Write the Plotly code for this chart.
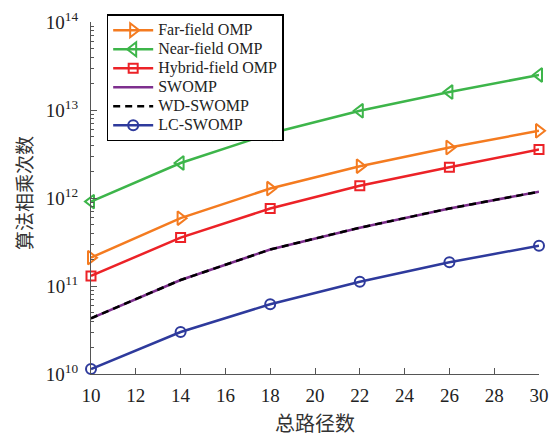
import plotly.graph_objects as go

# Total number of paths
paths = [10, 14, 18, 22, 26, 30]

# Number of complex multiplications per algorithm
far_field_omp = [2.1e11, 5.9e11, 1.28e12, 2.3e12, 3.75e12, 5.8e12]
near_field_omp = [9.1e11, 2.5e12, 5.4e12, 9.8e12, 1.6e13, 2.5e13]
hybrid_field_omp = [1.3e11, 3.55e11, 7.6e11, 1.38e12, 2.24e12, 3.55e12]
swomp = [4.3e10, 1.17e11, 2.6e11, 4.6e11, 7.6e11, 1.18e12]
wd_swomp = [4.3e10, 1.17e11, 2.6e11, 4.6e11, 7.6e11, 1.18e12]
lc_swomp = [1.14e10, 3.0e10, 6.2e10, 1.12e11, 1.86e11, 2.87e11]

series = [
    ("Far-field OMP", far_field_omp, "#F47B20", "triangle-right-open", 12, "solid"),
    ("Near-field OMP", near_field_omp, "#3DB54A", "triangle-left-open", 12, "solid"),
    ("Hybrid-field OMP", hybrid_field_omp, "#EC2227", "square-open", 9, "solid"),
    ("SWOMP", swomp, "#7E2F8E", None, 0, "solid"),
    ("WD-SWOMP", wd_swomp, "#000000", None, 0, "7px,5px"),
    ("LC-SWOMP", lc_swomp, "#2E3A9C", "circle-open", 10, "solid"),
]

fig = go.Figure()
for name, vals, color, symbol, size, dash in series:
    mode = "lines+markers" if symbol else "lines"
    tr = dict(
        x=paths, y=vals, mode=mode,
        # larger glyphs inside compact legend rows
        name=f"<span style='font-size:16px'>{name}</span>",
        line=dict(color=color, width=2.5, dash=dash),
        cliponaxis=False,
    )
    if symbol:
        tr["marker"] = dict(symbol=symbol, size=size, color=color,
                            line=dict(color=color, width=2))
    fig.add_trace(go.Scatter(**tr))

decades = [10, 11, 12, 13, 14]
minor_vals = [m * 10 ** d for d in decades[:-1] for m in range(2, 10)]

SERIF = "Liberation Serif"
CJK = "Noto Sans CJK SC"

fig.update_layout(
    width=558, height=436,
    margin=dict(l=91, r=9, t=15, b=62),
    paper_bgcolor="white", plot_bgcolor="white",
    font=dict(family=SERIF, size=18, color="#222"),
    showlegend=True,
    legend=dict(
        x=0.035, y=1.022, xanchor="left", yanchor="top",
        bgcolor="white", bordercolor="black", borderwidth=1.5,
        font=dict(family=SERIF, size=11, color="#222"),
        tracegroupgap=0, itemwidth=40,
    ),
    xaxis=dict(
        range=[10, 30], tickvals=list(range(10, 31, 2)),
        showline=True, linecolor="#555", linewidth=1.2, mirror=False,
        ticks="inside", ticklen=6, tickcolor="#555", tickwidth=1.2,
        showgrid=False, zeroline=False, ticklabeloverflow="allow",
        ticklabelstandoff=4,
        tickfont=dict(family=SERIF, size=19, color="#222"),
    ),
    yaxis=dict(
        type="log", range=[10, 14],
        tickvals=[10 ** d for d in decades],
        ticktext=[f"10<sup>{d}</sup>" for d in decades],
        showline=True, linecolor="#555", linewidth=1.2, mirror=False,
        ticks="inside", ticklen=6, tickcolor="#555", tickwidth=1.2,
        showgrid=False, zeroline=False, ticklabeloverflow="allow",
        ticklabelstandoff=8,
        tickfont=dict(family=SERIF, size=19, color="#222"),
        minor=dict(tickvals=minor_vals, ticks="inside", ticklen=3,
                   tickcolor="#555", tickwidth=1, showgrid=False),
    ),
    annotations=[
        # y-axis title, about 69 px left of the plot area, centred near y=190
        dict(text="算法相乘次数", x=-69 / 458, y=(374 - 190) / 359,
             xref="paper", yref="paper", textangle=-90, showarrow=False,
             xanchor="center", yanchor="middle",
             font=dict(family=CJK, size=19, color="#333")),
        # x-axis title
        dict(text="总路径数", x=0.5, y=-(423 - 374) / 359,
             xref="paper", yref="paper", showarrow=False,
             xanchor="center", yanchor="middle",
             font=dict(family=CJK, size=20, color="#333")),
    ],
)

fig.write_html("out.html")
